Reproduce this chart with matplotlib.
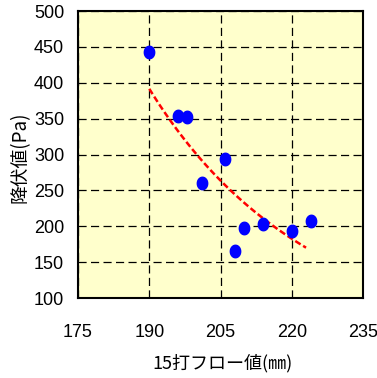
import numpy as np
import matplotlib
matplotlib.use("Agg")
import matplotlib.pyplot as plt
from matplotlib.path import Path

# 15打フロー値 (mm) と 降伏値 (Pa)
flow = [190, 196, 198, 201, 206, 208, 210, 214, 220, 224]
yield_pa = [443, 354, 352, 260, 294, 165, 198, 203, 194, 208]
xticks = [175, 190, 205, 220, 235]
yticks = [100, 150, 200, 250, 300, 350, 400, 450, 500]

jp = ['Noto Sans CJK JP', 'DejaVu Sans']
num_font = 'Liberation Sans'

# slightly tall ellipse marker
t = np.linspace(0, 2 * np.pi, 40)
ell = Path(np.column_stack([0.83 * np.cos(t), np.sin(t)]), closed=True)

fig = plt.figure(figsize=(3.77, 3.78), dpi=100)
ax = fig.add_axes([0.207, 0.2116, 0.756, 0.759])
ax.set_facecolor('#FFFFCC')

# power trend line (like Excel's)
b, ln_a = np.polyfit(np.log(flow), np.log(yield_pa), 1)
xs = np.linspace(min(flow), max(flow) - 1, 100)
ax.plot(xs, np.exp(ln_a) * xs ** b, color='#FF0000', lw=1.8,
        linestyle=(0, (2.5, 1.2)), zorder=3)

ax.plot(flow, yield_pa, linestyle='none', marker=ell, color='#0000FF',
        ms=9, mec='#0000FF', zorder=4)

ax.set_xlim(175, 235)
ax.set_ylim(100, 500)
ax.set_xticks(xticks)
ax.set_yticks(yticks)
ax.grid(True, color='black', linestyle=(0, (6.5, 3.5)), lw=0.9)
ax.tick_params(length=0, labelsize=13)
ax.tick_params(axis='x', pad=19)
ax.tick_params(axis='y', pad=10)
for lab in ax.get_xticklabels() + ax.get_yticklabels():
    lab.set_fontfamily(num_font)
for s in ax.spines.values():
    s.set_linewidth(1.5)
    s.set_color('black')

fig.text(0.053, 0.585, '降伏値(Pa)', rotation=90, ha='center', va='center',
         fontsize=13.5, family=jp)
fig.text(0.589, 0.04, '15打フロー値(㎜)', ha='center', va='center',
         fontsize=13, family=jp)

fig.savefig('out.png', dpi=100)
